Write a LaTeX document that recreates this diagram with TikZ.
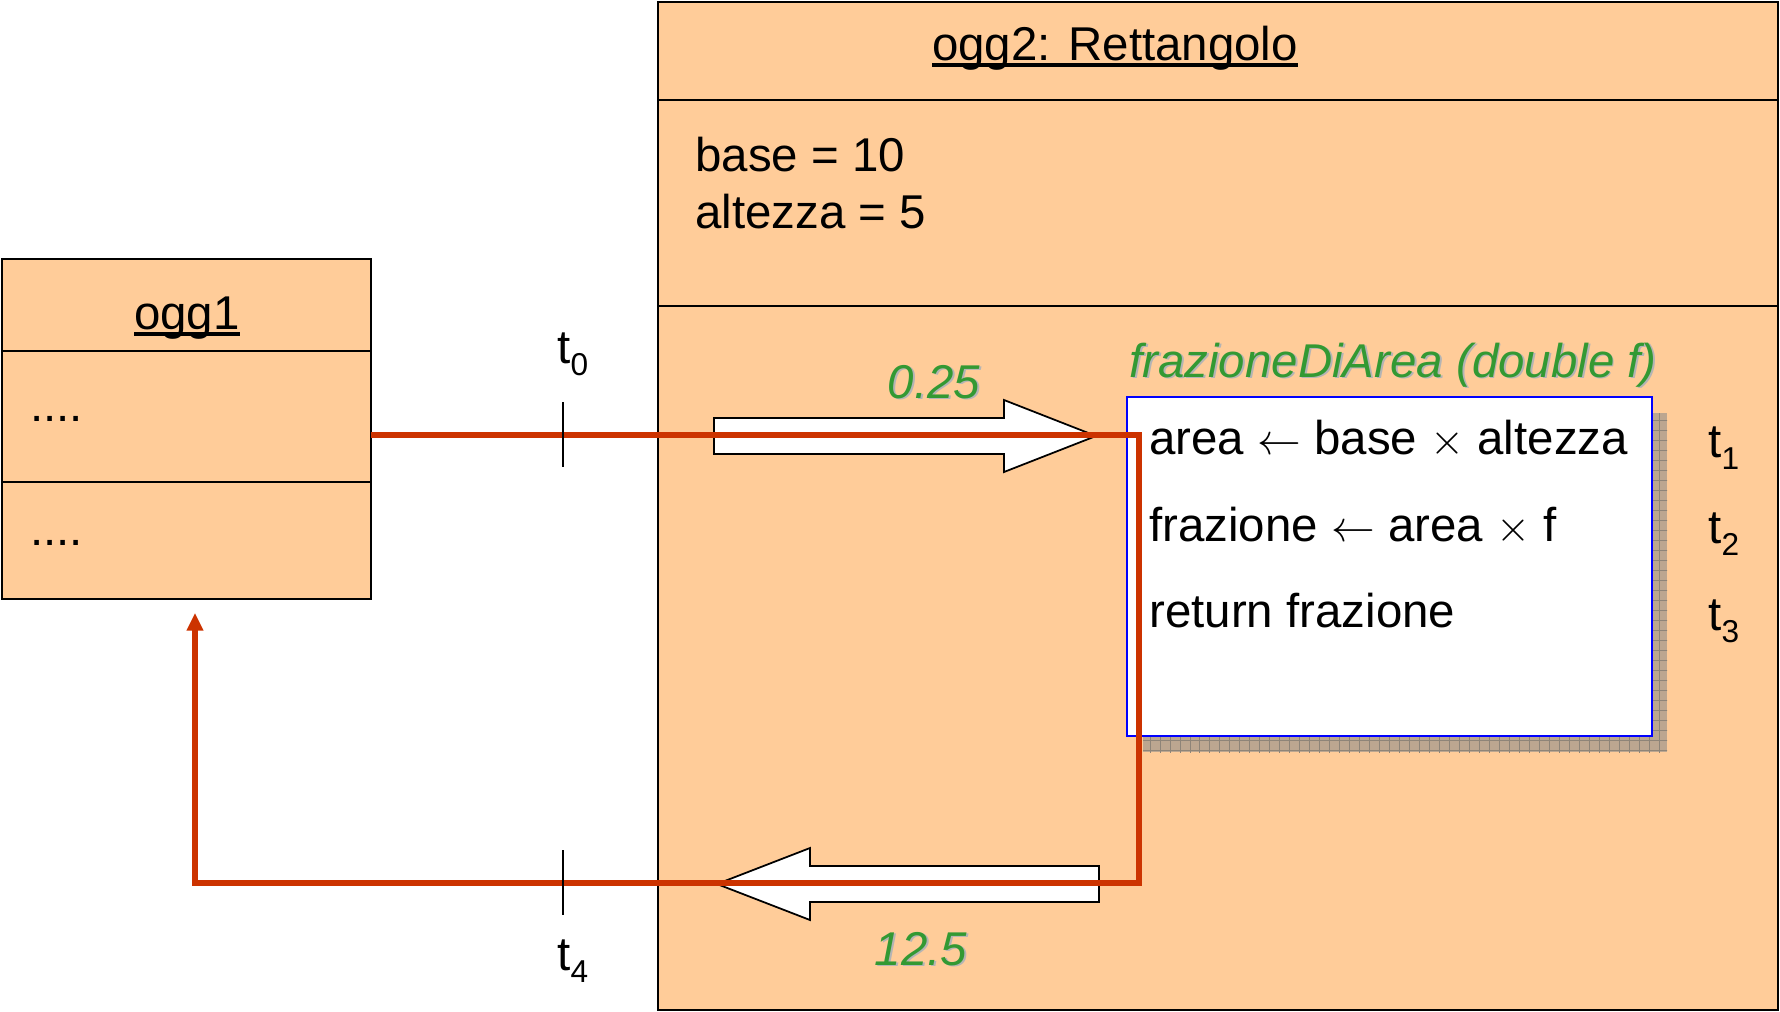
\documentclass[tikz,border=0pt]{standalone}
\usepackage{fontspec}
\setmainfont{Liberation Sans}
\usetikzlibrary{arrows.meta,positioning}
\definecolor{Ink}{HTML}{000000}
\definecolor{ObjectFill}{HTML}{FFCC99}
\definecolor{CallColor}{HTML}{CC3300}
\definecolor{ValueColor}{HTML}{339933}
\definecolor{ValueShade}{HTML}{B4B4B4}
\definecolor{MethodEdge}{HTML}{0000FF}
\definecolor{MethodShade}{HTML}{BCA690}
\definecolor{ShadeGrid}{HTML}{8E8478}
\tikzset{
  object part/.style={draw=Ink, fill=ObjectFill, line width=1pt,
    inner sep=0pt, outer sep=0pt, anchor=north west},
  object text/.style={text=Ink, font=\fontsize{27}{32}\selectfont, inner sep=0pt},
  value text/.style={text=ValueColor, font=\itshape\fontsize{27}{32}\selectfont, inner sep=0pt},
  method box/.style={draw=MethodEdge, fill=white, line width=1pt,
    inner sep=0pt, outer sep=0pt, anchor=north west},
  time tick/.style={draw=Ink, line width=1pt},
  call flow/.style={-{Triangle[length=10pt,width=9pt]}, draw=CallColor, line width=3.3pt},
  data arrow/.style={draw=Ink, fill=white, line width=1pt, line join=miter},
}
\newcommand{\px}{0.02cm}
\newcommand{\objname}[1]{\setbox0\hbox{#1}\rlap{\rule[-0.14em]{\wd0}{0.075em}}\box0}
\newcommand{\shadowed}[1]{\rlap{\kern1.1pt\raisebox{-1.1pt}{\textcolor{ValueShade}{#1}}}#1}
\newcommand{\timemark}[1]{t\raisebox{-7pt}{\fontsize{18}{18}\selectfont #1}}
\newcommand{\assignto}{\ensuremath{\leftarrow}}
\newcommand{\timesop}{\ensuremath{\times}}

\begin{document}
\begin{tikzpicture}[x=\px, y=-\px]
  \useasboundingbox (0,0) rectangle (1780,1011);

  % ogg2: name, attributes, operations
  \node[object part, minimum width=1120*\px, minimum height=98*\px] (ogg2Head) at (658,2) {};
  \node[object part, minimum width=1120*\px, minimum height=206*\px, below=0pt of ogg2Head] (ogg2Attr) {};
  \node[object part, minimum width=1120*\px, minimum height=704*\px, below=0pt of ogg2Attr] (ogg2Ops) {};
  \node[object text, anchor=base] (ogg2Name) at (1115,60) {\objname{ogg2: Rettangolo}};
  \node[object text, anchor=base west] (baseAttr) at (695,171) {base = 10};
  \node[object text, anchor=base west] (heightAttr) at (695,228) {altezza = 5};

  % ogg1
  \node[object part, minimum width=369*\px, minimum height=92*\px] (ogg1Head) at (2,259) {};
  \node[object part, minimum width=369*\px, minimum height=131*\px, below=0pt of ogg1Head] (ogg1Attr) {};
  \node[object part, minimum width=369*\px, minimum height=117*\px, below=0pt of ogg1Attr] (ogg1Ops) {};
  \node[object text, anchor=base] (ogg1Name) at (187,329) {\objname{ogg1}};
  \node[object text, anchor=base west] (ogg1Dots) at (30,421) {....};
  \node[object text, anchor=base west] (ogg1More) at (30,545) {....};

  % method body, with its hatched drop shadow
  \fill[MethodShade] (1143,413) rectangle (1667,752);
  \begin{scope}
    \clip (1143,413) rectangle (1667,752);
    \draw[ShadeGrid, line width=0.3pt, step=0.2cm] (1140,410) grid (1670,755);
  \end{scope}
  \node[method box, minimum width=525*\px, minimum height=339*\px] (methodBody) at (1127,397) {};
  \node[value text, anchor=base west] (methodSig) at (1129,377) {\shadowed{frazioneDiArea (double f)}};
  \node[object text, anchor=base west] (stmtArea) at (1149,454) {area \assignto{} base \timesop{} altezza};
  \node[object text, anchor=base west] (stmtFraction) at (1149,541) {frazione \assignto{} area \timesop{} f};
  \node[object text, anchor=base west] (stmtReturn) at (1149,627) {return frazione};
  \node[object text, anchor=base west] (tOne) at (1708,457) {\timemark{1}};
  \node[object text, anchor=base west] (tTwo) at (1708,543) {\timemark{2}};
  \node[object text, anchor=base west] (tThree) at (1708,630) {\timemark{3}};

  % argument in, result out
  \coordinate (argTail) at (714,436);
  \coordinate (resultTip) at (717,884);
  \draw[data arrow] (argTail) ++(0,-18) -- ++(290,0) -- ++(0,-18) -- ++(92,36)
    -- ++(-92,36) -- ++(0,-18) -- ++(-290,0) -- cycle;
  \draw[data arrow] (resultTip) -- ++(93,-36) -- ++(0,18) -- ++(289,0) -- ++(0,36)
    -- ++(-289,0) -- ++(0,18) -- cycle;
  \node[value text, anchor=base] (argValue) at (934,398) {\shadowed{0.25}};
  \node[value text, anchor=base] (resultValue) at (921,965) {\shadowed{12.5}};

  % control flow of the call
  \coordinate (callTurn) at (1139,435);
  \coordinate (returnTurn) at (1139,883);
  \coordinate (returnEnd) at (195,613);
  \draw[call flow] (ogg1Attr.east |- callTurn) -- (callTurn) -- (returnTurn) -| (returnEnd);

  % instants
  \draw[time tick] (563,402) -- (563,467);
  \draw[time tick] (563,850) -- (563,915);
  \node[object text, anchor=base west] (tZero) at (557,363) {\timemark{0}};
  \node[object text, anchor=base west] (tFour) at (557,970) {\timemark{4}};
\end{tikzpicture}
\end{document}
